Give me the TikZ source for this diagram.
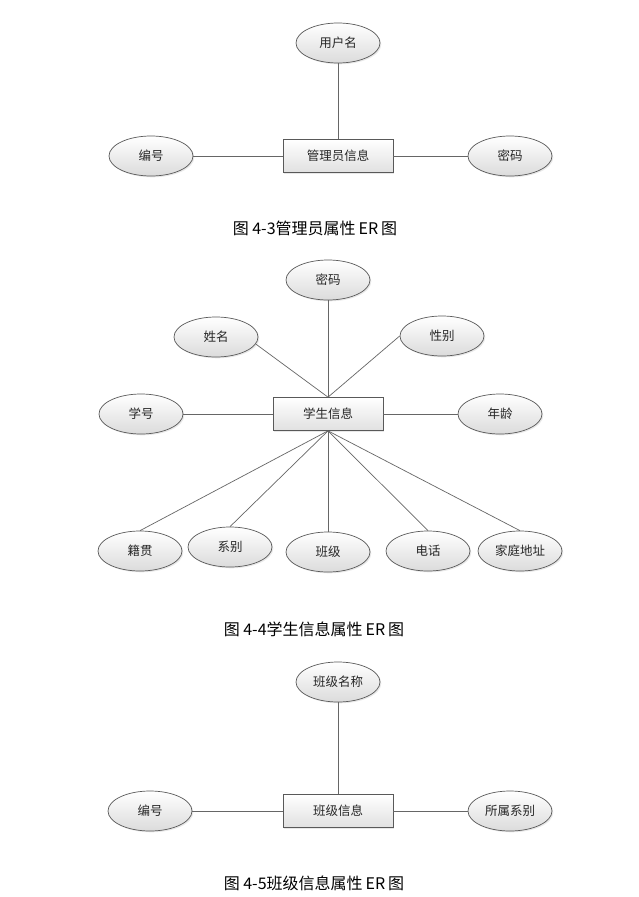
\documentclass[tikz,border=0pt]{standalone}
\usepackage{fontspec}
\setmainfont{Noto Sans CJK SC}
\usetikzlibrary{shapes.geometric,shadows}

\begin{document}
\begin{tikzpicture}[x=1pt,y=-1pt,-,auto,
    attr node/.style={ellipse,draw=black!65,line width=0.7pt,top color=white,bottom color=black!14,
        minimum width=84pt,minimum height=40pt,inner sep=0pt,text=black!85,font=\fontsize{12.5}{14}\selectfont,
        drop shadow={opacity=0.18,shadow xshift=1.3pt,shadow yshift=-1.3pt}},
    entity node/.style={rectangle,draw=black!65,line width=0.7pt,top color=white,bottom color=black!12,
        minimum width=110pt,minimum height=33pt,inner sep=0pt,text=black!85,font=\fontsize{12.5}{14}\selectfont,
        drop shadow={opacity=0.18,shadow xshift=1.3pt,shadow yshift=-1.3pt}},
    cap node/.style={font=\fontsize{16}{18}\selectfont,text=black}]
                \path[fill=white,use as bounding box] (0,0) rectangle (639,897);

                % 4-3
                \node[entity node] (adm) at (338,156) {管理员信息};
                \node[attr node] (yhm) at (338,43) {用户名};
                \node[attr node] (bh1) at (151,156) {编号};
                \node[attr node] (mm1) at (510,156) {密码};
                \node[cap node] (cap1) at (315,228) {图 4-3管理员属性\hspace{3pt}ER\hspace{3pt}图};

                \path[every edge/.style={draw=black!60,line width=0.7pt}]
                    (yhm) edge (adm)
                    (bh1) edge (adm)
                    (adm) edge (mm1)
                ;

                % 4-4
                \node[entity node] (stu) at (328,414) {学生信息};
                \node[attr node] (mm2) at (328,280) {密码};
                \node[attr node] (xm) at (216,337) {姓名};
                \node[attr node] (xb) at (442,336) {性别};
                \node[attr node] (xh) at (141,414) {学号};
                \node[attr node] (nl) at (500,414) {年龄};
                \node[attr node] (jg) at (140,551) {籍贯};
                \node[attr node] (xbie) at (230,547) {系别};
                \node[attr node] (bj) at (328,552) {班级};
                \node[attr node] (dh) at (428,551) {电话};
                \node[attr node] (jtdz) at (520,551) {家庭地址};
                \node[cap node] (cap2) at (314,629) {图 4-4学生信息属性\hspace{3pt}ER\hspace{3pt}图};

                \path[every edge/.style={draw=black!60,line width=0.7pt}]
                    (mm2) edge (stu)
                    (xm.-10) edge (stu.north)
                    (xb.west) edge (stu.north)
                    (xh) edge (stu)
                    (stu) edge (nl)
                    (stu.south) edge (jg.north)
                    (stu.south) edge (xbie.north)
                    (stu.south) edge (bj.north)
                    (stu.south) edge (dh.north)
                    (stu.south) edge (jtdz.north)
                ;

                % 4-5
                \node[entity node] (cls) at (338,811) {班级信息};
                \node[attr node] (bjmc) at (338,682) {班级名称};
                \node[attr node] (bh3) at (150,811) {编号};
                \node[attr node] (ssxb) at (510,811) {所属系别};
                \node[cap node] (cap3) at (314,883) {图 4-5班级信息属性\hspace{3pt}ER\hspace{3pt}图};

                \path[every edge/.style={draw=black!60,line width=0.7pt}]
                    (bjmc) edge (cls)
                    (bh3) edge (cls)
                    (cls) edge (ssxb)
                ;
            \end{tikzpicture}
\end{document}
